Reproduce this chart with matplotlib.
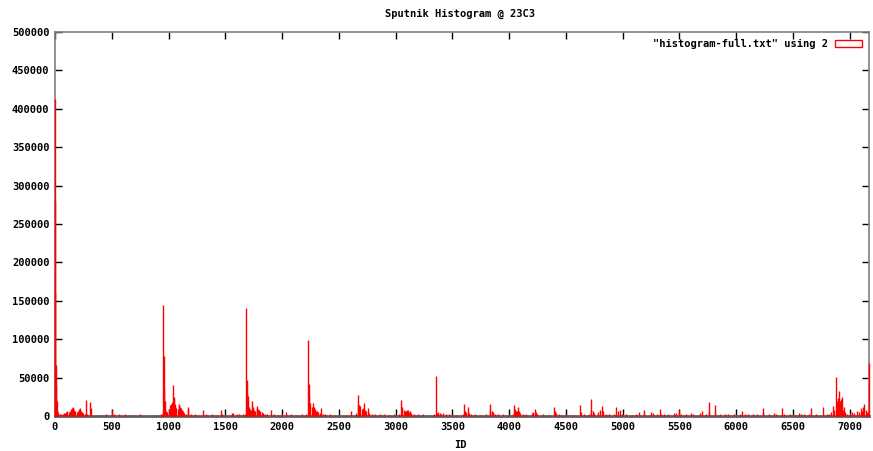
import matplotlib
matplotlib.use("Agg")
import matplotlib.pyplot as plt
from matplotlib.patches import Patch

# (ID, count) pairs; IDs not listed are ~0
ids = [
    0, 1, 3, 5, 8, 12, 15, 20, 25, 30, 40, 50, 70, 80, 90, 100, 110, 120, 130, 140,
    150, 155, 160, 170, 180, 190, 200, 210, 220, 230, 240, 250, 260, 270, 280, 310, 315,
    380, 450, 505, 520, 560, 620, 700, 750, 880, 930,
    945, 953, 958, 962, 966, 970, 980, 990, 1000, 1010, 1020, 1030, 1035, 1041, 1045,
    1050, 1055, 1060, 1070, 1080, 1090, 1095, 1100, 1110, 1120, 1130, 1140, 1150, 1171,
    1175, 1200, 1230, 1260,
    1306, 1330, 1380, 1420, 1461, 1470, 1500, 1560, 1570, 1600, 1620, 1660, 1670,
    1684, 1688, 1693, 1700, 1705, 1715, 1725, 1734, 1740, 1750, 1760, 1775, 1780, 1790,
    1800, 1810, 1820, 1830, 1850, 1870, 1907, 1930, 1960, 2000, 2039, 2080, 2120, 2180, 2215,
    2230, 2234, 2240, 2250, 2260, 2274, 2280, 2290, 2300, 2310, 2320, 2330, 2347, 2360,
    2380, 2420, 2460, 2500, 2560,
    2611, 2650, 2665, 2670, 2680, 2690, 2700, 2710, 2723, 2730, 2740, 2758, 2770, 2790,
    2820, 2860, 2900, 2940, 2990,
    3030, 3052, 3058, 3070, 3080, 3090, 3100, 3110, 3120, 3130, 3140, 3160, 3200, 3240,
    3340, 3360, 3365, 3375, 3390, 3400, 3420, 3440, 3470, 3500, 3530,
    3590, 3603, 3610, 3620, 3638, 3645, 3660, 3700, 3740,
    3800, 3829, 3835, 3845, 3860, 3880, 3900, 3950, 3990,
    4030, 4043, 4050, 4060, 4070, 4082, 4090, 4100, 4120, 4150, 4200, 4210, 4225, 4235,
    4250, 4300, 4350,
    4395, 4400, 4410, 4440, 4470, 4500, 4560, 4622, 4630, 4660, 4700, 4718, 4725, 4735,
    4750, 4780, 4800, 4821, 4830, 4850, 4880, 4920, 4945, 4955, 4975, 4990,
    5030, 5080, 5120, 5140, 5185, 5190, 5250, 5270, 5300, 5326, 5340, 5360, 5400, 5450,
    5470, 5500, 5510, 5560, 5600, 5620, 5680, 5695, 5730, 5757, 5765, 5810, 5815, 5860,
    5900, 5930, 5980, 6030, 6054, 6080, 6100, 6150, 6180, 6232, 6240, 6290, 6330, 6350,
    6408, 6420, 6470, 6520, 6550, 6570, 6600, 6640, 6660, 6700, 6761, 6800, 6820, 6835,
    6849, 6860, 6880, 6888, 6895, 6902, 6910, 6915, 6925, 6930, 6940, 6950, 6960, 6980,
    7000, 7020, 7040, 7060, 7080, 7100, 7110, 7120, 7130, 7140, 7150, 7160, 7168,
]
counts = [
    413000, 280000, 160000, 66000, 40000, 21000, 19000, 8000, 5000, 3000, 2500, 2000, 3000,
    4000, 3500, 5000, 6000, 5000, 7000, 9000, 11000, 12000, 10000, 8000, 6000, 5000, 7000,
    9000, 10000, 7000, 5000, 4000, 3000, 21000, 3000, 18000, 10000,
    1500, 2000, 7800, 3000, 2000, 3000, 1500, 2500, 1500, 2000,
    3000, 145000, 78000, 35000, 20000, 8000, 6000, 5000, 9000, 14000, 16000, 18000, 13000,
    41000, 22000, 25000, 16000, 12000, 10000, 9000, 15000, 14000, 12000, 10000, 8000, 6000,
    4000, 3000, 11500, 9000, 3000, 2000, 1500,
    7800, 3000, 2000, 1500, 7800, 3000, 1500, 4000, 3500, 2500, 3000, 2000, 3000,
    141000, 47000, 30000, 26000, 12000, 9000, 8000, 19500, 12000, 8000, 7000, 13000, 11000,
    9000, 8000, 6000, 5000, 4000, 3000, 2500, 7800, 2000, 1500, 2000, 5000, 2000, 1500,
    2500, 2500,
    99000, 42000, 26000, 17000, 12000, 17000, 12000, 9000, 7000, 6000, 5000, 4000, 10000,
    3000, 2000, 2000, 1500, 1500, 1500,
    6500, 4000, 27000, 16000, 14000, 13000, 9000, 10000, 16500, 8000, 6000, 10000, 4000,
    3000, 2500, 2000, 2000, 1500, 2000,
    3000, 21000, 12000, 8000, 6000, 7000, 8000, 7800, 5000, 6000, 4000, 3000, 2000, 2500,
    2000, 52000, 4000, 5000, 4000, 3000, 3500, 2500, 2000, 1500, 1500,
    3000, 15200, 6000, 5000, 11300, 4000, 3000, 2000, 1500,
    2000, 16000, 8000, 6000, 5000, 3000, 2500, 2000, 1500,
    3000, 14000, 9000, 7000, 6000, 11300, 6000, 4000, 3000, 2000, 4000, 5000, 9500, 5000,
    3000, 2000, 1500,
    11300, 6000, 4000, 3000, 1500, 2000, 1500, 14000, 5000, 3000, 3000, 22000, 8000, 6000,
    4000, 5000, 8000, 13000, 6000, 3000, 2000, 3000, 11300, 6000, 8000, 3000,
    2000, 1500, 3000, 5000, 8000, 4000, 5000, 4000, 3000, 9100, 3000, 2000, 2000, 3500,
    4000, 8000, 3000, 3000, 4000, 2500, 4000, 7000, 2000, 18000, 5000, 14300, 4000, 2000,
    3000, 2500, 3000, 2000, 6000, 3000, 2000, 2500, 3000, 10000, 5000, 2000, 4000, 3000,
    10000, 3000, 2000, 1500, 4000, 3000, 2000, 3000, 10000, 2000, 11300, 2000, 3000, 5000,
    13400, 8000, 51000, 20000, 23000, 15000, 32500, 20000, 22000, 25000, 8000, 12000, 5000,
    3000, 4000, 5000, 4000, 6000, 5000, 10000, 7000, 12000, 15600, 8000, 5000, 4000, 69400,
]

x_ticks = list(range(0, 7001, 500))
y_ticks = list(range(0, 500001, 50000))

font = {"family": "DejaVu Sans Mono", "weight": "bold", "size": 7.5}


def main():
    fig = plt.figure(figsize=(8.73, 4.51), dpi=100)
    ax = fig.add_axes([55 / 873, 35 / 451, 814 / 873, 384 / 451])

    # bars drawn above the frame so the edge spikes show over the axes lines
    ax.vlines(ids, 0, counts, color="#ff0000", linewidth=1.0, zorder=3,
              clip_on=False)

    ax.set_xlim(0, 7170)
    ax.set_ylim(0, 500000)
    ax.set_xticks(x_ticks)
    ax.set_yticks(y_ticks)
    ax.set_xticklabels([str(t) for t in x_ticks], fontdict=font)
    ax.set_yticklabels([str(t) for t in y_ticks], fontdict=font)
    ax.tick_params(direction="in", length=5, width=1, color="#000000",
                   top=True, right=True, pad=4)
    for s in ax.spines.values():
        s.set_color("#808080")
        s.set_linewidth(1.2)
        s.set_zorder(2)
    ax.spines["bottom"].set_color("#606060")
    ax.spines["bottom"].set_linewidth(2)

    fig.text(0.527, 1 - 14 / 451, "Sputnik Histogram @ 23C3", ha="center",
             va="center", **font)
    fig.text(0.527, 1 - 445 / 451, "ID", ha="center", va="center", **font)

    handle = Patch(facecolor="none", edgecolor="#ff0000", linewidth=1)
    ax.legend([handle], ['"histogram-full.txt" using 2'], loc="upper right",
              frameon=False, markerfirst=False, prop=font,
              handlelength=2.6, handleheight=0.6, borderaxespad=0.3,
              handletextpad=0.6)

    fig.savefig("out.png", dpi=100)


if __name__ == "__main__":
    main()
